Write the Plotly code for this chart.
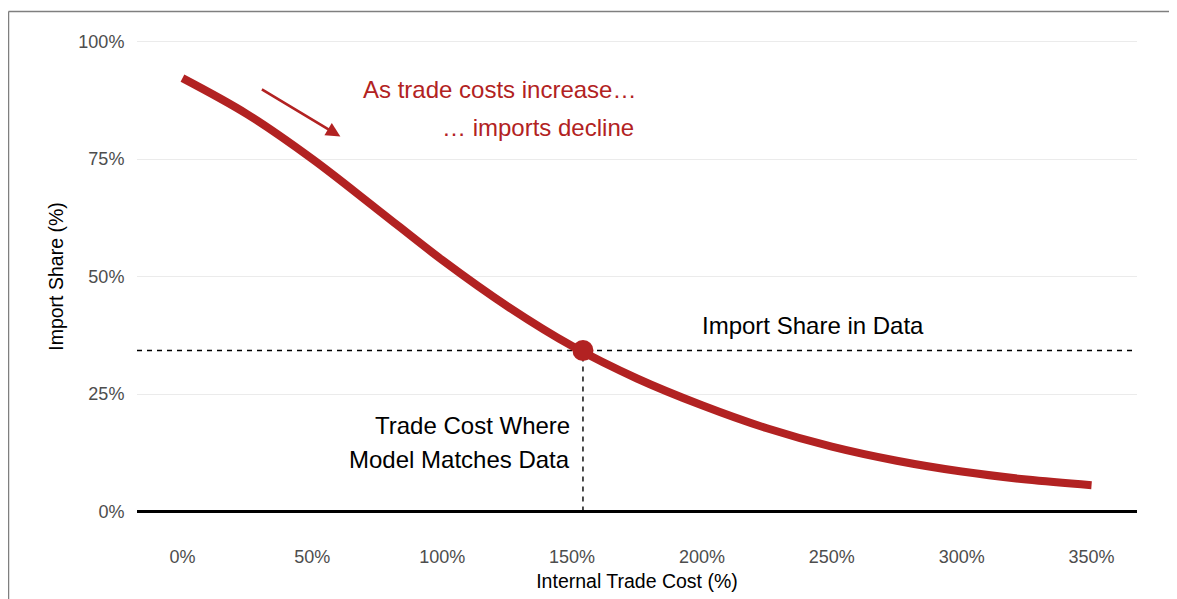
import plotly.graph_objects as go

# Model curve: import share at each internal trade cost
trade_cost = [0, 25, 50, 75, 100, 125, 150, 175, 200, 225, 250, 275, 300, 325, 350]
import_share = [0.922, 0.845, 0.750, 0.643, 0.535, 0.437, 0.352, 0.283, 0.226,
                0.177, 0.138, 0.108, 0.085, 0.068, 0.056]

# Calibration point where the model matches the data
matched_cost = 154.2
data_share = 0.3426

x_ticks = [0, 50, 100, 150, 200, 250, 300, 350]
x_tick_labels = ["0%", "50%", "100%", "150%", "200%", "250%", "300%", "350%"]
y_ticks = [0, 0.25, 0.5, 0.75, 1.0]
y_tick_labels = ["0%", "25%", "50%", "75%", "100%"]

RED = "#B22222"
FONT = "Arial, Liberation Sans, sans-serif"
X_RANGE = [-17.5, 367.5]
Y_RANGE = [-0.05, 1.05]

fig = go.Figure()

# reference lines (between grid and traces)
fig.add_shape(type="line", x0=X_RANGE[0], x1=X_RANGE[1], y0=data_share, y1=data_share,
              line=dict(color="black", width=1.4, dash="5px,5px"), layer="between")
fig.add_shape(type="line", x0=matched_cost, x1=matched_cost, y0=0, y1=data_share,
              line=dict(color="black", width=1.4, dash="5px,5px"), layer="between")
fig.add_shape(type="line", x0=X_RANGE[0], x1=X_RANGE[1], y0=0, y1=0,
              line=dict(color="black", width=3.2), layer="between")

fig.add_trace(go.Scatter(
    x=trade_cost, y=import_share, mode="lines",
    line=dict(color=RED, width=8, shape="spline"),
    hoverinfo="skip", showlegend=False,
))
fig.add_trace(go.Scatter(
    x=[matched_cost], y=[data_share], mode="markers",
    marker=dict(color=RED, size=21),
    hoverinfo="skip", showlegend=False,
))

# arrow
fig.add_annotation(x=60.8, y=0.798, ax=30, ay=0.90, axref="x", ayref="y",
                   showarrow=True, arrowhead=2, arrowsize=1.1, arrowwidth=2.6,
                   arrowcolor=RED, text="")

labels = [
    ("As trade costs increase…", 175.3, 0.898, RED, "right"),
    ("… imports decline", 174.6, 0.817, RED, "right"),
    ("Import Share in Data", 242.7, 0.396, "black", "center"),
    ("Trade Cost Where", 149.8, 0.183, "black", "right"),
    ("Model Matches Data", 149.8, 0.111, "black", "right"),
]
for text, x, y, color, anchor in labels:
    fig.add_annotation(x=x, y=y, text=text, showarrow=False, xanchor=anchor,
                       yanchor="middle", font=dict(family=FONT, size=24, color=color))

# outer frame of the screenshot
fig.add_shape(type="line", xref="paper", yref="paper", x0=-0.1285, x1=-0.1285,
              y0=1.0125, y1=-0.2, line=dict(color="#7f7f7f", width=1.5))
fig.add_shape(type="line", xref="paper", yref="paper", x0=-0.1285, x1=1.2,
              y0=1.0125, y1=1.0125, line=dict(color="#7f7f7f", width=1.5))

fig.update_layout(
    width=1177, height=599,
    margin=dict(l=129, r=48, t=10, b=72),
    plot_bgcolor="white", paper_bgcolor="white",
    font=dict(family=FONT),
    xaxis=dict(
        range=X_RANGE, tickvals=x_ticks, ticktext=x_tick_labels,
        showgrid=False, zeroline=False, showline=False,
        ticks="outside", ticklen=5, tickcolor="rgba(0,0,0,0)",
        tickfont=dict(size=18, color="#4d4d4d"),
        title=dict(text="Internal Trade Cost (%)", standoff=8,
                   font=dict(size=19.5, color="black")),
    ),
    yaxis=dict(
        range=Y_RANGE, tickvals=y_ticks, ticktext=y_tick_labels,
        showgrid=True, gridcolor="#ebebeb", gridwidth=1.2,
        zeroline=False, showline=False,
        ticks="outside", ticklen=8, tickcolor="rgba(0,0,0,0)",
        tickfont=dict(size=18, color="#4d4d4d"),
        title=dict(text="Import Share (%)", standoff=9,
                   font=dict(size=19.5, color="black")),
    ),
)

fig.write_html("out.html")
